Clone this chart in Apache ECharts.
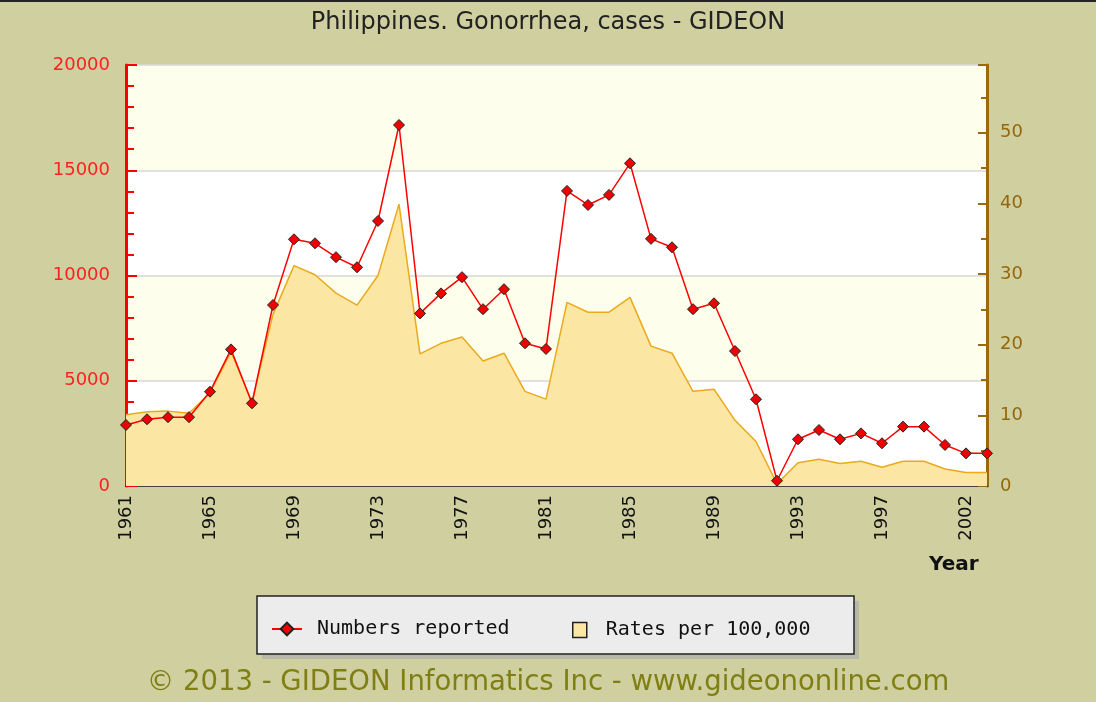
<!DOCTYPE html>
<html>
<head>
<meta charset="utf-8">
<title>Philippines. Gonorrhea, cases - GIDEON</title>
<script src="https://cdn.jsdelivr.net/npm/echarts@6/dist/echarts.min.js"></script>
<style>
  html, body { margin: 0; padding: 0; background: #cfcfa0; }
  #chart { width: 1096px; height: 702px; }
</style>
</head>
<body>
<div id="chart"></div>
<script>
// 年份（1999 之后缺一年）
const years = ['1961','1962','1963','1964','1965','1966','1967','1968','1969','1970',
  '1971','1972','1973','1974','1975','1976','1977','1978','1979','1980',
  '1981','1982','1983','1984','1985','1986','1987','1988','1989','1990',
  '1991','1992','1993','1994','1995','1996','1997','1998','1999','2000',
  '2002','2003'];

// 报告病例数
const numbersReported = [2900, 3170, 3270, 3270, 4480, 6490, 3930, 8600, 11720, 11530,
  10870, 10390, 12590, 17150, 8200, 9150, 9920, 8400, 9350, 6780,
  6510, 14020, 13350, 13830, 15330, 11740, 11340, 8400, 8680, 6410,
  4120, 250, 2220, 2660, 2220, 2500, 2030, 2820, 2820, 1950,
  1550, 1550];

// 每十万人发病率
const ratesPer100k = [10.1, 10.5, 10.6, 10.3, 13.2, 19.0, 11.9, 24.3, 31.2, 29.9,
  27.3, 25.6, 29.8, 39.9, 18.7, 20.2, 21.1, 17.7, 18.8, 13.4,
  12.3, 26.0, 24.6, 24.6, 26.7, 19.8, 18.8, 13.4, 13.7, 9.3,
  6.3, 0.3, 3.3, 3.8, 3.2, 3.5, 2.65, 3.5, 3.5, 2.4,
  1.9, 1.9];

const leftTicks = [0, 5000, 10000, 15000, 20000];
const rightTicks = [0, 10, 20, 30, 40, 50];

let chart = echarts.init(document.getElementById('chart'));

let legendText = { fontFamily: 'DejaVu Sans Mono', fontSize: 20, color: '#111' };

let option = {
  backgroundColor: '#cfcfa0',
  animation: false,
  title: {
    text: 'Philippines. Gonorrhea, cases - GIDEON',
    left: 'center',
    top: 6,
    textStyle: { fontFamily: 'DejaVu Sans', fontSize: 24, fontWeight: 'normal', color: '#222' }
  },
  grid: { left: 126, right: 109, top: 65, bottom: 216 },
  legend: [
    {
      left: 266,
      top: 614,
      itemWidth: 30,
      itemHeight: 16,
      textStyle: Object.assign({ padding: [0, 0, 0, 10] }, legendText),
      data: [{ name: 'Numbers reported' }]
    },
    {
      left: 567,
      top: 615,
      itemWidth: 14,
      itemHeight: 15,
      textStyle: Object.assign({ padding: [0, 0, 0, 14] }, legendText),
      data: [{ name: 'Rates per 100,000', icon: 'rect',
        itemStyle: { color: '#fbe6a3', borderColor: '#222', borderWidth: 1.5 } }]
    }
  ],
  xAxis: {
    type: 'category',
    data: years,
    boundaryGap: false,
    axisLine: { lineStyle: { color: '#111', width: 1.5 } },
    axisTick: {
      inside: true, length: 10, lineStyle: { color: '#111' },
      interval: (i) => i % 4 === 0
    },
    axisLabel: {
      rotate: 90, margin: 9, color: '#111',
      fontFamily: 'DejaVu Sans', fontSize: 18,
      interval: (i) => i % 4 === 0
    },
    splitLine: { show: false }
  },
  yAxis: [
    {
      type: 'value',
      min: leftTicks[0],
      max: leftTicks[leftTicks.length - 1],
      interval: 5000,
      axisLine: { show: true, lineStyle: { color: '#ff0000', width: 3 } },
      axisTick: { show: true, inside: true, length: 11, lineStyle: { color: '#ff0000', width: 2 } },
      minorTick: { show: true, splitNumber: 5, length: 8, lineStyle: { color: '#ff0000', width: 2 } },
      axisLabel: {
        color: '#ff2020', fontFamily: 'DejaVu Sans', fontSize: 18, margin: 16,
        formatter: (v) => String(v)
      },
      splitLine: { show: true, lineStyle: { color: '#d8d8d8', width: 1.5 } },
      splitArea: { show: true, areaStyle: { color: ['#ffffff', '#fefeec'] } }
    },
    {
      type: 'value',
      min: rightTicks[0],
      max: 59.6,
      interval: 10,
      position: 'right',
      axisLine: { show: true, lineStyle: { color: '#9a6a08', width: 3 } },
      axisTick: { show: true, inside: true, length: 9, lineStyle: { color: '#9a6a08', width: 2 } },
      minorTick: { show: true, splitNumber: 2, length: 6, lineStyle: { color: '#9a6a08', width: 2 } },
      axisLabel: {
        color: '#93680c', fontFamily: 'DejaVu Sans', fontSize: 18, margin: 13,
        showMaxLabel: false
      },
      splitLine: { show: false }
    }
  ],
  series: [
    {
      name: 'Rates per 100,000',
      type: 'line',
      yAxisIndex: 1,
      data: ratesPer100k,
      symbol: 'none',
      lineStyle: { color: '#eaaa1c', width: 1.5 },
      itemStyle: { color: '#fbe6a3' },
      areaStyle: { color: '#fbe6a3', opacity: 1 },
      z: 2
    },
    {
      name: 'Numbers reported',
      type: 'line',
      yAxisIndex: 0,
      data: numbersReported,
      symbol: 'diamond',
      symbolSize: 11,
      lineStyle: { color: '#ff0000', width: 1.5 },
      itemStyle: { color: '#ee0000', borderColor: '#222', borderWidth: 1 },
      z: 3
    }
  ],
  graphic: [
    {
      type: 'rect',
      shape: { x: 0, y: 0, width: 1096, height: 2 },
      style: { fill: '#222' },
      z: 10
    },
    {
      type: 'rect',
      shape: { x: 262, y: 601, width: 597, height: 58 },
      style: { fill: '#b8b8a8' },
      z: 0
    },
    {
      type: 'rect',
      shape: { x: 257, y: 596, width: 597, height: 58 },
      style: { fill: '#ececec', stroke: '#222', lineWidth: 1.5 },
      z: 1
    },
    {
      type: 'text',
      left: 929,
      top: 555,
      style: { text: 'Year', fontFamily: 'DejaVu Sans', fontWeight: 'bold', fontSize: 20, fill: '#111' }
    },
    {
      type: 'text',
      left: 'center',
      top: 669,
      style: {
        text: '© 2013 - GIDEON Informatics Inc - www.gideononline.com',
        fontFamily: 'DejaVu Sans', fontSize: 27.5, fill: '#7f7f14'
      }
    }
  ]
};

chart.setOption(option);
</script>
</body>
</html>
